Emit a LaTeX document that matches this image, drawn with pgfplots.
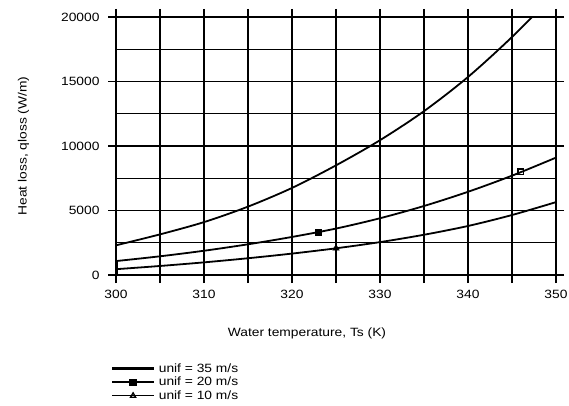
\documentclass[border=0pt]{standalone}
\usepackage{fontspec}
\setmainfont{Liberation Sans}[FakeStretch=1.15]
\usepackage{pgfplots}
\pgfplotsset{compat=1.18}
\begin{document}
\begin{tikzpicture}[font=\fontsize{12bp}{14bp}\selectfont]
\begin{axis}[name=ax,
  scale only axis, width=440bp, height=258bp,
  xmin=300, xmax=350, ymin=0, ymax=20000,
  xtick={300,305,...,350},
  xticklabels={300,,310,,320,,330,,340,,350},
  ytick={0,5000,10000,15000,20000},
  minor ytick={2500,7500,12500,17500},
  scaled y ticks=false,
  /pgf/number format/assume math mode=true,
  yticklabel={\pgfmathprintnumber[fixed,1000 sep={}]{\tick}},
  yticklabel style={xshift=-5bp},
  xticklabel style={yshift=-4bp},
  grid=both,
  major grid style={black, line width=1.2bp},
  minor grid style={black, line width=1.2bp},
  tick align=outside,
  major tick length=8bp,
  minor tick length=0pt,
  tick style={black, line width=1.2bp},
  axis line style={black, line width=1.2bp},
  every tick label/.append style={font=\fontsize{12bp}{14bp}\selectfont},
  every axis x label/.style={at={(axis description cs:0.434,-0.225)}, anchor=center},
  every axis y label/.style={at={(axis description cs:-0.21,0.5)}, rotate=90, anchor=center},
  xlabel={Water temperature, Ts (K)},
  ylabel={Heat loss, qloss (W/m)},
  clip=true,
  legend cell align=left,
  legend style={at={(rel axis cs:-0.019,-0.33)}, anchor=north west, draw=none, fill=none,
    font=\fontsize{12bp}{12bp}\selectfont, row sep=1.5bp,
    nodes={inner sep=1bp},
    /tikz/every odd column/.append style={column sep=2.5bp}},
  legend image code/.code={%
    \draw[#1, mark repeat=2, mark phase=2] plot coordinates {(0bp,0bp)(21bp,0bp)(42bp,0bp)};},
]
\addlegendimage{black, line width=2.5bp}
\addlegendentry{unif = 35 m/s}
\addlegendimage{black, line width=2.2bp, mark=square*, mark size=2.5bp, mark options={solid}}
\addlegendentry{unif = 20 m/s}
\addlegendimage{black, line width=1.3bp, mark=triangle, mark size=3bp, mark options={solid, line width=1.3bp}}
\addlegendentry{unif = 10 m/s}

% u = 35 m/s
\addplot[black, line width=1.8bp, smooth, forget plot] coordinates {
(300,2300)(305,3150)(310,4100)(315,5300)(320,6750)(325,8500)(330,10450)(335,12700)(340,15350)(345,18450)(350,21900)};
% u = 20 m/s
\addplot[black, line width=1.8bp, smooth, forget plot] coordinates {
(300,1080)(305,1450)(310,1880)(315,2380)(320,2950)(325,3600)(330,4400)(335,5350)(340,6450)(345,7700)(350,9100)};
% u = 10 m/s
\addplot[black, line width=1.8bp, smooth, forget plot] coordinates {
(300,450)(305,700)(310,980)(315,1300)(320,1660)(325,2070)(330,2550)(335,3120)(340,3800)(345,4650)(350,5650)};
% left-edge segment
\addplot[black, line width=3bp, forget plot] coordinates {(300,0)(300,1200)};
% markers
\addplot[black, only marks, mark=square*, mark size=2.8bp, forget plot] coordinates {(323,3330)};
\addplot[black, only marks, mark=square, mark size=2.6bp, mark options={line width=1.6bp}, forget plot] coordinates {(346,8000)};
\addplot[black, only marks, mark=triangle*, mark size=3.8bp, forget plot] coordinates {(325,2070)};
\end{axis}
\draw[black, line width=2.6bp] (ax.south west) -- (ax.north west);
\draw[black, line width=2.2bp] (ax.south west) -- (ax.south east);
\draw[black, line width=2.4bp] (ax.south east) -- (ax.north east);
\pgfresetboundingbox
\path ([xshift=-116bp,yshift=-130bp]ax.south west) rectangle ([xshift=13bp,yshift=17bp]ax.north east);
\end{tikzpicture}
\end{document}
